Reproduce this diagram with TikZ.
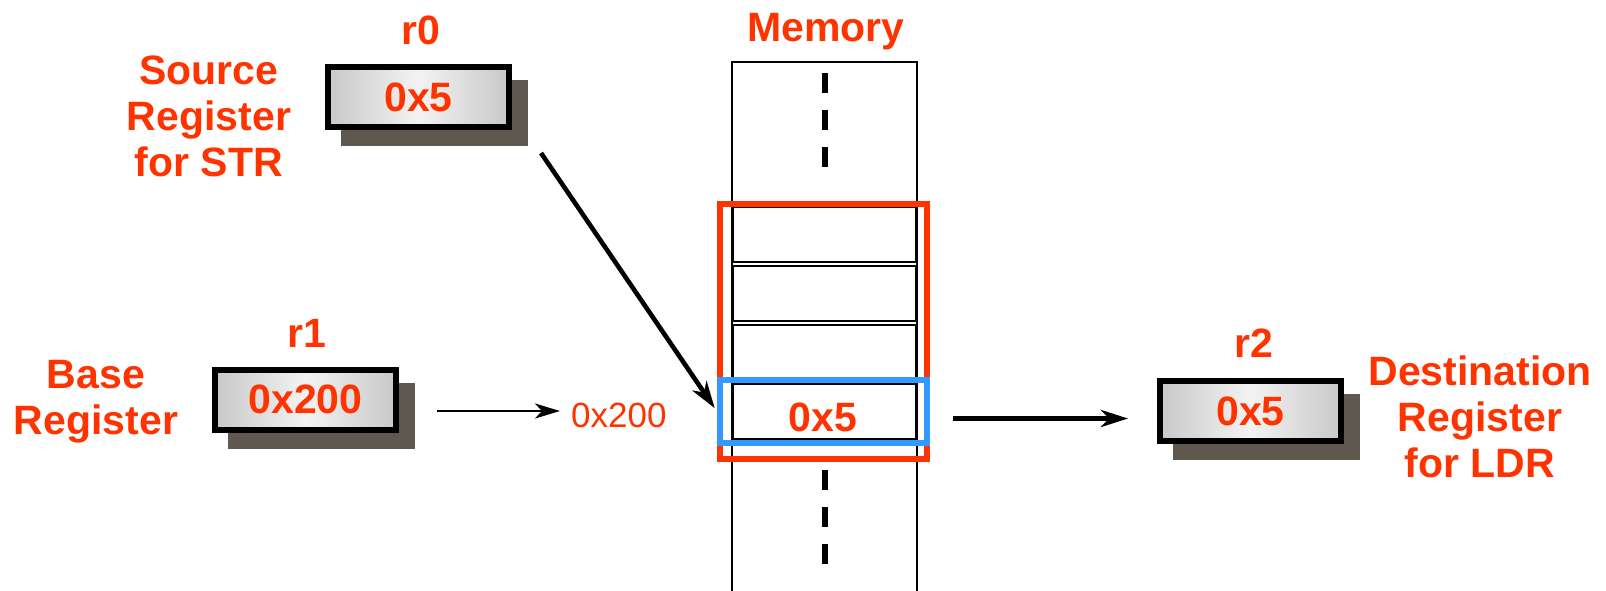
\documentclass[tikz,border=0pt]{standalone}
\usepackage{fontspec}
\setmainfont{Liberation Sans}
\usetikzlibrary{arrows.meta,shadows}
\definecolor{hot}{RGB}{255,51,0}
\definecolor{sky}{RGB}{51,153,255}
\definecolor{shade}{RGB}{95,88,79}
\definecolor{boxedge}{RGB}{200,200,200}
\definecolor{boxmid}{RGB}{243,243,243}
\begin{document}
\begin{tikzpicture}[x=1pt,y=-1pt,
  lbl/.style={text=hot, font=\fontsize{41}{46}\selectfont\bfseries, inner sep=0pt},
  note/.style={text=hot, font=\fontsize{35}{40}\selectfont, inner sep=0pt},
  reg/.style={draw=black, line width=6pt, minimum width=181pt, minimum height=60pt,
    inner sep=0pt, left color=boxedge, right color=boxedge, middle color=boxmid,
    text=hot, font=\fontsize{41}{46}\selectfont\bfseries,
    drop shadow={shadow xshift=16pt, shadow yshift=-16pt, opacity=1,
      fill=shade, draw=shade}},
  cell/.style={draw=black, line width=2pt, minimum width=183pt,
    minimum height=55pt, inner sep=0pt},
  frame/.style={draw=#1, line width=6pt, minimum width=207pt, inner sep=0pt},
  link/.style={-{Stealth[length=27pt,width=17pt,inset=8pt]}, line width=4.6pt},
  thinlink/.style={-{Stealth[length=25pt,width=15pt,inset=7pt]}, line width=2.5pt},
]
\useasboundingbox (0,0) rectangle (1606,591);

% memory column with elided regions above and below
\draw[line width=2pt] (732,591) -- (732,62) -- (917,62) -- (917,591);
\draw[line width=5.7pt, dash pattern=on 20pt off 17pt] (825,73) -- (825,168);
\draw[line width=5.7pt, dash pattern=on 20pt off 17pt] (825,470) -- (825,566);

% memory words
\node[cell] (c1) at (824.5,234) {};
\node[cell] (c2) at (824.5,293.5) {};
\node[cell] (c3) at (824.5,352.5) {};
\node[cell] (c4) at (824.5,411) {};
\node[lbl, anchor=base] (val) at (823,431) {0x5};

% highlighted block and selected word
\node[frame=hot, minimum height=255pt] (blk) at (823.5,331.5) {};
\node[frame=sky, minimum height=63pt] (sel) at (823.5,411.5) {};
\node[lbl, anchor=base] (memlbl) at (826,42) {Memory};

% registers
\node[reg] (r0) at (418.5,97) {0x5};
\node[reg] (r1) at (305.5,399.5) {0x200};
\node[reg] (r2) at (1250.5,411) {0x5};
\node[lbl, anchor=base] (r0lbl) at (421,45) {r0};
\node[lbl, anchor=base] (r1lbl) at (307,347) {r1};
\node[lbl, anchor=base] (r2lbl) at (1254,357) {r2};

% register roles
\node[lbl, anchor=base] (srclbl) at (209,85)
  {\begin{tabular}[t]{@{}c@{}}Source\\Register\\for STR\end{tabular}};
\node[lbl, anchor=base] (baselbl) at (96,388)
  {\begin{tabular}[t]{@{}c@{}}Base\\Register\end{tabular}};
\node[lbl, anchor=base] (dstlbl) at (1480,385)
  {\begin{tabular}[t]{@{}c@{}}Destination\\Register\\for LDR\end{tabular}};

% address taken from the base register
\node[note, anchor=base west] (addr) at (571,427) {0x200};

% data movement
\coordinate (r0out) at (541,153);
\draw[link, shorten >=4pt] (r0out) -- (sel.west);
\draw[thinlink, shorten <=38pt, shorten >=11pt]
  ([yshift=-11.5pt]r1.east) -- ([yshift=-11.5pt]r1.east -| addr.west);
\draw[link, shorten <=23pt, shorten >=29pt]
  ([yshift=-7pt]sel.east) -- ([yshift=-7pt]sel.east -| r2.west);
\end{tikzpicture}
\end{document}
